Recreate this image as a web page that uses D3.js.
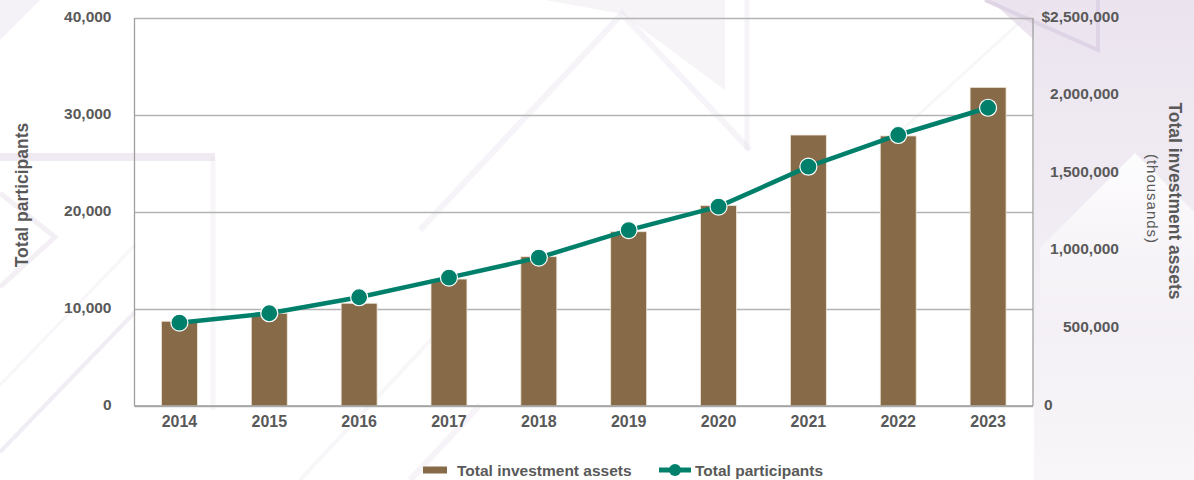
<!DOCTYPE html>
<meta charset="utf-8">
<style>
body { margin: 0; background: #fff; }
text { font-family: "Liberation Sans", Arial, sans-serif; fill: #595959; }
.tick text { font-size: 15.5px; font-weight: bold; }
.grid line { stroke: #b3b3b3; stroke-width: 1.3px; }
.grid path { display: none; }
.axis path { display: none; }
.bar { fill: #876b48; stroke: #eee6d8; stroke-width: 0.8px; }
.line { fill: none; stroke: #00806b; stroke-width: 4.5px; }
.dot { fill: #00806b; stroke: #fff; stroke-width: 1.2px; }
.bg { fill: none; stroke: #ddd2e3; }
</style>
<body>
<script src="https://d3js.org/d3.v7.min.js"></script>
<script>
// data
var years = ["2014","2015","2016","2017","2018","2019","2020","2021","2022","2023"];
var assets = [546000, 597000, 662000, 818000, 962000, 1123000, 1291000, 1746000, 1740000, 2053000];
var participants = [8590, 9560, 11210, 13230, 15290, 18140, 20550, 24670, 27940, 30750];
var leftTicks = [0, 10000, 20000, 30000, 40000];
var rightTicks = [0, 500000, 1000000, 1500000, 2000000, 2500000];

var width = 1194, height = 480;
var plotLeft = 134.5, plotRight = 1033, plotTop = 18, plotBottom = 406;

var svg = d3.select("body").append("svg")
    .attr("width", width)
    .attr("height", height);

// faint lavender background decoration
var defs = svg.append("defs");
var grad = defs.append("linearGradient").attr("id", "side")
    .attr("x1", 0).attr("y1", 0).attr("x2", 0).attr("y2", 1);
grad.append("stop").attr("offset", "0%").attr("stop-color", "#ebe4ef");
grad.append("stop").attr("offset", "100%").attr("stop-color", "#f8f6f9");
var wgrad = defs.append("linearGradient").attr("id", "wtri")
    .attr("x1", 0).attr("y1", 0).attr("x2", 0).attr("y2", 1);
wgrad.append("stop").attr("offset", "0%").attr("stop-color", "#fff").attr("stop-opacity", 0.9);
wgrad.append("stop").attr("offset", "100%").attr("stop-color", "#fff").attr("stop-opacity", 0);

var bg = svg.append("g");
bg.append("polygon").attr("points", "990,0 1194,0 1194,480 1034,480 1034,40").attr("fill", "url(#side)");
bg.append("polygon").attr("points", "1135,153 1194,212 1194,330 1040,330 1040,248").attr("fill", "url(#wtri)");
bg.append("polygon").attr("points", "545,0 725,0 725,90 622,14").attr("fill", "#efe9f2").attr("opacity", 0.5);
bg.append("polygon").attr("points", "0,0 40,0 0,40").attr("fill", "#efe9f2").attr("opacity", 0.6);
var bgLines = [
  ["M985,0 L1098,50 L1098,0", 4, 0.9],
  ["M420,230 L622,14 L750,150", 6, 0.25],
  ["M747,0 L747,150", 5, 0.25],
  ["M0,157 L215,157", 8, 0.45],
  ["M213,157 L213,410", 5, 0.2],
  ["M0,193 L55,237 L0,287", 5, 0.35],
  ["M0,452 L135,312", 4, 0.4],
  ["M0,385 L135,245", 3, 0.2],
  ["M300,480 L440,330", 4, 0.2],
  ["M410,480 L480,405", 6, 0.25],
  ["M880,150 L1033,10", 3, 0.2]
];
bgLines.forEach(function(l) {
  bg.append("path").attr("class", "bg").attr("d", l[0])
    .attr("stroke-width", l[1]).attr("opacity", l[2]);
});

var x = d3.scaleBand().domain(years).range([plotLeft, plotRight]).paddingInner(0.6).paddingOuter(0.3);
var yL = d3.scaleLinear().domain([0, 40000]).range([plotBottom, plotTop]);
var yR = d3.scaleLinear().domain([0, 2500000]).range([plotBottom, plotTop]);

// gridlines
svg.append("g").attr("class", "grid")
    .attr("transform", "translate(" + plotLeft + ",0)")
    .call(d3.axisLeft(yL).tickValues(leftTicks).tickSize(-(plotRight - plotLeft)).tickFormat(""));

// plot frame sides
svg.append("line").attr("x1", plotLeft).attr("x2", plotLeft).attr("y1", plotTop).attr("y2", plotBottom)
    .attr("stroke", "#9f9f9f").attr("stroke-width", 1.3);
svg.append("line").attr("x1", plotRight).attr("x2", plotRight).attr("y1", plotTop).attr("y2", plotBottom)
    .attr("stroke", "#9f9f9f").attr("stroke-width", 1.3);

// bars
svg.selectAll(".bar")
    .data(years)
  .enter().append("rect")
    .attr("class", "bar")
    .attr("x", function(d) { return x(d); })
    .attr("width", x.bandwidth())
    .attr("y", function(d, i) { return yR(assets[i]); })
    .attr("height", function(d, i) { return plotBottom - yR(assets[i]); });

svg.append("line").attr("x1", plotLeft).attr("x2", plotRight).attr("y1", plotBottom).attr("y2", plotBottom)
    .attr("stroke", "#9f9f9f").attr("stroke-width", 1.5);

// participants line
var line = d3.line()
    .x(function(d, i) { return x(years[i]) + x.bandwidth() / 2; })
    .y(function(d) { return yL(d); });
svg.append("path").datum(participants).attr("class", "line").attr("d", line);
svg.selectAll(".dot")
    .data(participants)
  .enter().append("circle")
    .attr("class", "dot")
    .attr("r", 8.5)
    .attr("cx", function(d, i) { return x(years[i]) + x.bandwidth() / 2; })
    .attr("cy", function(d) { return yL(d); });

// axes
svg.append("g").attr("class", "axis")
    .attr("transform", "translate(" + plotLeft + ",0)")
    .call(d3.axisLeft(yL).tickValues(leftTicks).tickSize(0).tickPadding(23).tickFormat(d3.format(",")))
    .selectAll("text").attr("dy", "0.25em");

var rAxis = svg.append("g").attr("class", "axis")
    .attr("transform", "translate(" + plotRight + ",0)")
    .call(d3.axisRight(yR).tickValues(rightTicks).tickSize(0)
      .tickFormat(function(d) { return (d === 2500000 ? "$" : "") + d3.format(",")(d); }));
rAxis.selectAll("text")
    .attr("dy", "0.2em")
    .attr("text-anchor", function(d) { return d === 0 ? "start" : "end"; })
    .attr("x", function(d) { return d === 0 ? 11 : 86; });

svg.append("g").attr("class", "axis")
    .attr("transform", "translate(0," + plotBottom + ")")
    .call(d3.axisBottom(x).tickSize(0).tickPadding(10))
    .selectAll("text").style("font-size", "16px");

// axis titles
svg.append("text")
    .attr("transform", "translate(28,195) rotate(-90)")
    .attr("text-anchor", "middle")
    .style("font-size", "17.5px").style("font-weight", "bold")
    .text("Total participants");
svg.append("text")
    .attr("transform", "translate(1169,201) rotate(90)")
    .attr("text-anchor", "middle")
    .style("font-size", "17.5px").style("font-weight", "bold")
    .text("Total investment assets");
svg.append("text")
    .attr("transform", "translate(1147,199) rotate(90)")
    .attr("text-anchor", "middle")
    .style("font-size", "15px").style("letter-spacing", "1px")
    .text("(thousands)");

// legend
var legend = svg.append("g");
legend.append("rect").attr("x", 423).attr("y", 466.5).attr("width", 24).attr("height", 7).attr("fill", "#876b48");
legend.append("text").attr("x", 457).attr("y", 476).style("font-size", "15.5px").style("font-weight", "bold")
    .text("Total investment assets");
legend.append("line").attr("x1", 659).attr("x2", 691).attr("y1", 470).attr("y2", 470)
    .attr("stroke", "#00806b").attr("stroke-width", 5);
legend.append("circle").attr("cx", 675).attr("cy", 470).attr("r", 6).attr("fill", "#00806b");
legend.append("text").attr("x", 695).attr("y", 476).style("font-size", "15.5px").style("font-weight", "bold")
    .text("Total participants");
</script>
